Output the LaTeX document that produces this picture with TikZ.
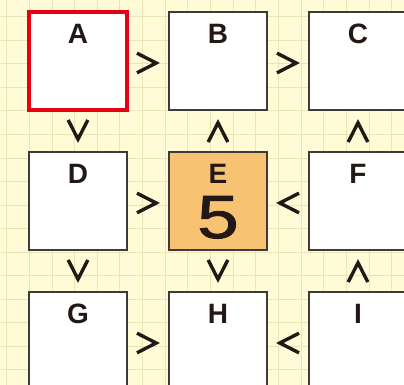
\documentclass[tikz,border=0pt]{standalone}
\usepackage{graphicx}
\usepackage{fontspec}
\setmainfont{Liberation Sans}
\newfontfamily\digitfont[FakeBold=1.4]{Liberation Sans}
\usetikzlibrary{positioning,calc}
\definecolor{paper}{HTML}{FFFBD6}
\definecolor{gridc}{HTML}{ECE4B4}
\definecolor{ink}{HTML}{231815}
\definecolor{frame}{HTML}{3E3A39}
\definecolor{givenfill}{HTML}{F7C373}
\definecolor{redline}{HTML}{E60012}

\tikzset{
  cell/.style={draw=frame, line width=1.4pt, fill=white, minimum size=98pt, inner sep=0pt, outer sep=0pt},
  letter/.style={text=ink, font=\bfseries\fontsize{28}{28}\selectfont, inner sep=0pt, text height=20.5pt, text depth=0pt},
  sign/.style={draw=ink, line width=3.4pt, line join=miter},
  chev/.pic={\draw[sign] (-11,9.8) -- (8.2,0) -- (-11,-9.8);}
}

\begin{document}
\begin{tikzpicture}[x=1pt,y=-1pt]
    \useasboundingbox (0,0) rectangle (404,385);
    \clip (0,0) rectangle (404,385);
    \fill[paper] (0,0) rectangle (404,385);
    % grid paper
    \foreach \i in {0,...,17}
      \draw[gridc, line width=1pt] ({6.7+22.65*\i},0) -- ++(0,385);
    \foreach \j in {0,...,15}
      \draw[gridc, line width=1pt] (0,{17+23.5*\j}) -- ++(404,0);

    % cells
    \node[cell, draw=redline, line width=4.6pt] (A) at (78,61) {};
    \node[cell] (B) at (218,61) {};
    \node[cell] (C) at (358,61) {};
    \node[cell] (D) at (78,201) {};
    \node[cell, fill=givenfill] (E) at (218,201) {};
    \node[cell] (F) at (358,201) {};
    \node[cell] (G) at (78,341) {};
    \node[cell] (H) at (218,341) {};
    \node[cell] (I) at (358,341) {};

    \foreach \n in {A,...,I}
      \node[letter] (l\n) at ([yshift=27.5pt]\n.center) {\n};
    \node[text=ink, font=\digitfont\fontsize{61}{61}\selectfont, inner sep=0pt, text height=44pt, text depth=0pt] (vE) at ([yshift=-15pt]E.center) {\scalebox{1.22}[1]{5}};

    % inequality signs
    \pic at ($(A)!.5!(B)+(0,2)$) {chev};
    \pic at ($(B)!.5!(C)+(0,2)$) {chev};
    \pic[rotate=-90] at ($(A)!.5!(D)$) {chev};
    \pic[rotate=90] at ($(B)!.5!(E)$) {chev};
    \pic[rotate=90] at ($(C)!.5!(F)$) {chev};
    \pic at ($(D)!.5!(E)+(0,2)$) {chev};
    \pic[rotate=180] at ($(E)!.5!(F)+(0,2)$) {chev};
    \pic[rotate=-90] at ($(D)!.5!(G)$) {chev};
    \pic[rotate=-90] at ($(E)!.5!(H)$) {chev};
    \pic[rotate=90] at ($(F)!.5!(I)$) {chev};
    \pic at ($(G)!.5!(H)+(0,2)$) {chev};
    \pic[rotate=180] at ($(H)!.5!(I)+(0,2)$) {chev};
\end{tikzpicture}
\end{document}
